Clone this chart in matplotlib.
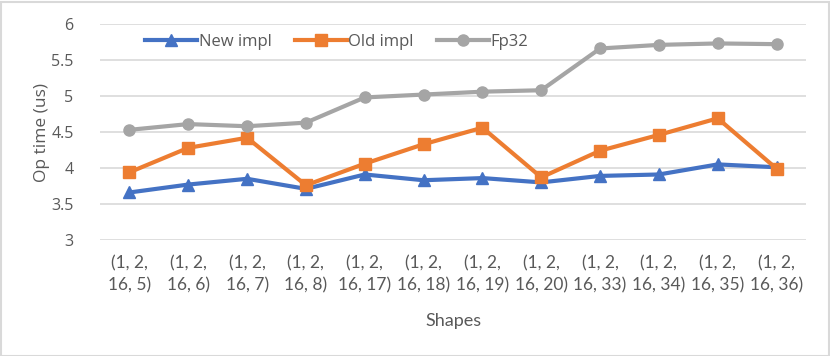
import matplotlib
matplotlib.use("Agg")
import matplotlib.pyplot as plt
from matplotlib.patches import Rectangle

shapes = ["(1, 2,\n16, 5)", "(1, 2,\n16, 6)", "(1, 2,\n16, 7)", "(1, 2,\n16, 8)",
          "(1, 2,\n16, 17)", "(1, 2,\n16, 18)", "(1, 2,\n16, 19)", "(1, 2,\n16, 20)",
          "(1, 2,\n16, 33)", "(1, 2,\n16, 34)", "(1, 2,\n16, 35)", "(1, 2,\n16, 36)"]
new_impl = [3.66, 3.77, 3.85, 3.71, 3.91, 3.83, 3.86, 3.80, 3.89, 3.91, 4.05, 4.01]
old_impl = [3.94, 4.28, 4.42, 3.76, 4.06, 4.33, 4.56, 3.87, 4.24, 4.46, 4.69, 3.99]
fp32 = [4.53, 4.61, 4.58, 4.63, 4.98, 5.02, 5.06, 5.08, 5.66, 5.71, 5.73, 5.72]
yticks = [3, 3.5, 4, 4.5, 5, 5.5, 6]

plt.rcParams['font.family'] = ['Lato', 'DejaVu Sans']
txt = '#595959'

fig = plt.figure(figsize=(8.3, 3.56), dpi=100)
W, H = 830, 356
ax = fig.add_axes([100 / W, 1 - 240 / H, 706 / W, 216 / H])

x = list(range(len(shapes)))
ax.plot(x, new_impl, color='#4472C4', lw=3, marker='^', ms=8, label='New impl', zorder=3)
ax.plot(x, old_impl, color='#ED7D31', lw=3, marker='s', ms=8, label='Old impl', zorder=3)
ax.plot(x, fp32, color='#A5A5A5', lw=3, marker='o', ms=8, label='Fp32', zorder=3)

ax.set_xlim(-0.5, len(shapes) - 0.5)
ax.set_ylim(3, 6)
ax.set_yticks(yticks)
ax.set_yticklabels([f'{v:g}' for v in yticks], family=['Open Sans'], fontsize=11.5)
ax.set_xticks(x)
ax.set_xticklabels(shapes, fontsize=12.5, linespacing=1.45)
ax.grid(axis='y', color='#D9D9D9', lw=1.2, zorder=0)
for s in ax.spines.values():
    s.set_visible(False)
ax.tick_params(length=0, colors=txt)
ax.tick_params(axis='y', pad=19)
ax.tick_params(axis='x', pad=11)
ax.set_xlabel('Shapes', color=txt, fontsize=13, labelpad=14)
ax.set_ylabel('Op time (us)', color=txt, fontsize=12.5, family=['Open Sans'], labelpad=1)

leg = ax.legend(loc='upper left', bbox_to_anchor=(0.055, 0.985), ncol=3, frameon=False,
                prop={'family': 'Open Sans', 'size': 12}, handlelength=3.1,
                handletextpad=0.1, columnspacing=1.4, borderaxespad=0)
for t in leg.get_texts():
    t.set_color(txt)

fig.add_artist(Rectangle((0.5 / W, 0.5 / H), 1 - 2 / W, 1 - 2 / H, transform=fig.transFigure,
                         fill=False, edgecolor='#D9D9D9', lw=1.5))

fig.savefig('out.png', dpi=100)
